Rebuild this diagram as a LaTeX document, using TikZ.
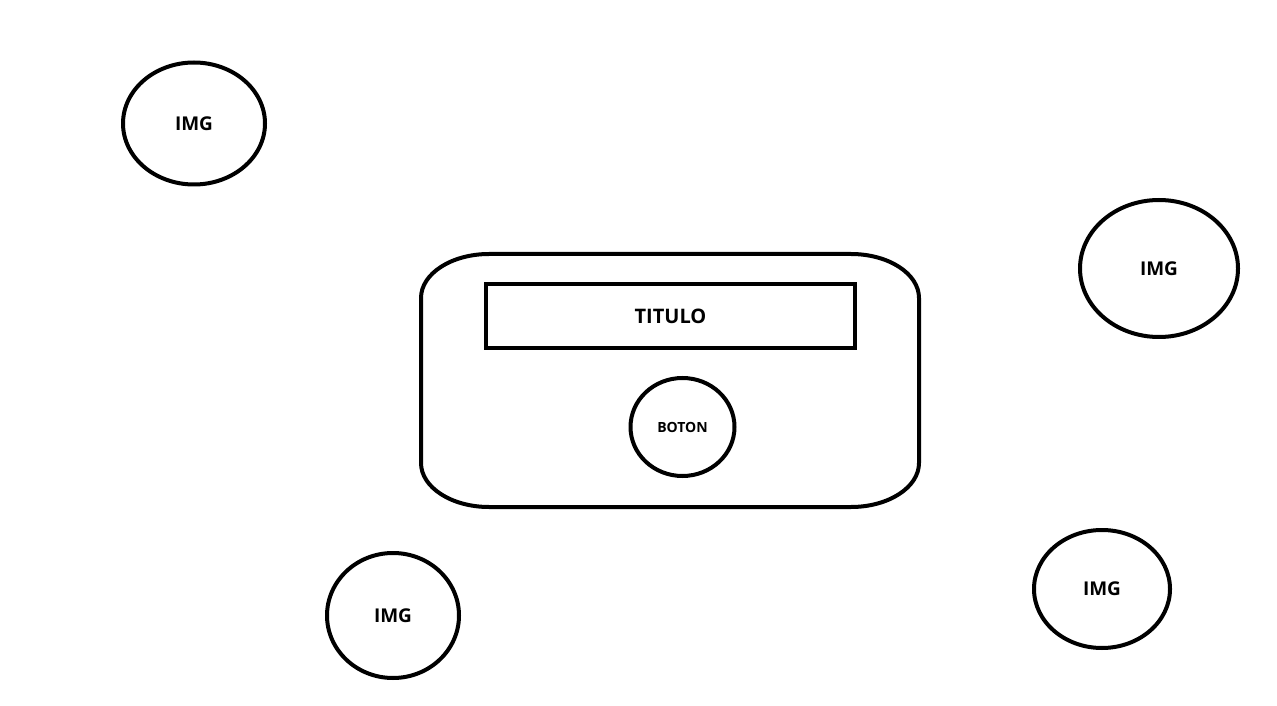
\documentclass[tikz,border=0pt]{standalone}
\usepackage{fontspec}
\setmainfont{Open Sans}
\usepackage{tikz}
\usetikzlibrary{shapes}

\begin{document}
\begin{tikzpicture}[x=1pt,y=1pt]
			\tikzstyle{img}=[ellipse,draw,line width=4pt,inner sep=0pt,font=\fontsize{19}{22}\selectfont\bfseries]
			\tikzstyle{boton}=[ellipse,draw,line width=4pt,inner sep=0pt,minimum width=104pt,minimum height=98pt,font=\fontsize{14}{17}\selectfont\bfseries]
			\tikzstyle{titulo}=[rectangle,draw,line width=4pt,inner sep=0pt,minimum width=369pt,minimum height=64pt,font=\fontsize{20}{24}\selectfont\bfseries]
			\tikzstyle{marco}=[draw,line width=4pt,line join=round]
			
			\useasboundingbox (0,0) rectangle (1277,705);
			
			\node [img,minimum width=142pt,minimum height=122pt] (img1) at (194,581.5) {IMG};
			\node [img,minimum width=158pt,minimum height=137pt] (img2) at (1159,436.5) {IMG};
			\node [img,minimum width=132pt,minimum height=125pt] (img3) at (393,89.5) {IMG};
			\node [img,minimum width=136pt,minimum height=118pt] (img4) at (1102,116) {IMG};
			
			\path [marco] (421,242) -- (421,407)
				arc [start angle=180,end angle=90,x radius=68,y radius=44] -- (851,451)
				arc [start angle=90,end angle=0,x radius=68,y radius=44] -- (919,242)
				arc [start angle=0,end angle=-90,x radius=68,y radius=44] -- (489,198)
				arc [start angle=-90,end angle=-180,x radius=68,y radius=44] -- cycle;
			
			\node [titulo] (titulo) at (670.5,389) {TITULO};
			\node [boton] (boton) at (682.5,278) {BOTON};
\end{tikzpicture}
\end{document}
